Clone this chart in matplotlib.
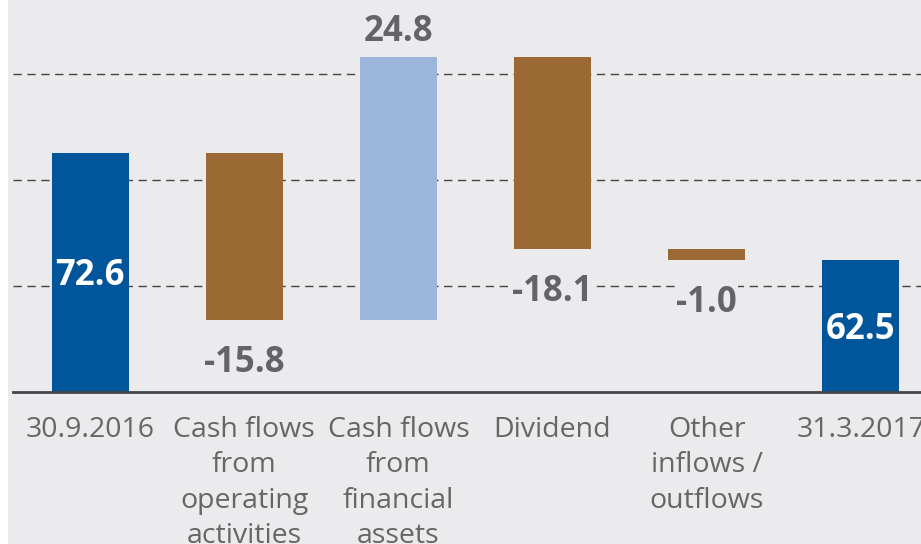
import matplotlib.pyplot as plt
from matplotlib.patches import Rectangle
import numpy as np

# Data
categories = ["30.9.2016", "Cash flows\nfrom\noperating\nactivities", "Cash flows\nfrom\nfinancial\nassets",
              "Dividend", "Other\ninflows /\noutflows", "31.3.2017"]
start_value = 72.6
changes = [-15.8, 24.8, -18.1, -1.0]
end_value = 62.5
labels = ["72.6", "-15.8", "24.8", "-18.1", "-1.0", "62.5"]

bg = "#ebebed"
dark_blue = "#00559b"
brown = "#9b6934"
light_blue = "#9cb6db"
label_gray = "#646466"

# waterfall geometry
level = start_value
bottoms = [0]
heights = [start_value]
for c in changes:
    new = level + c
    bottoms.append(min(level, new))
    heights.append(abs(c))
    level = new
bottoms.append(0)
heights.append(end_value)
colors = [dark_blue] + [light_blue if c > 0 else brown for c in changes] + [dark_blue]

fig = plt.figure(figsize=(9.21, 5.44), dpi=100)
fig.patch.set_facecolor("white")
fig.patches.append(Rectangle((8 / 921, 0), 1, 1, transform=fig.transFigure,
                             facecolor=bg, edgecolor="none", zorder=-10))

ax = fig.add_axes([13 / 921, 152 / 544, 1 - 13 / 921, 392 / 544])
ax.set_facecolor(bg)
x = np.arange(len(categories))
ax.bar(x, heights, bottom=bottoms, width=0.5, color=colors, zorder=2)

ymin = 50
ax.set_xlim(-0.5, 5.39)
ax.set_ylim(ymin, 87)
for g in [60, 70, 80]:
    ax.axhline(g, color="#444444", lw=1, ls=(0, (6, 4)), zorder=1)

for s in ["top", "left", "right"]:
    ax.spines[s].set_visible(False)
ax.spines["bottom"].set_color("#45464a")
ax.spines["bottom"].set_linewidth(2)
ax.set_xticks([])
ax.set_yticks([])

font = "Open Sans"
for i in range(len(categories)):
    if i in (0, len(categories) - 1):
        ax.annotate(labels[i], (x[i], (ymin + heights[i]) / 2), xytext=(0, -3),
                    textcoords="offset points", ha="center", va="center",
                    color="white", fontsize=25, fontweight="bold", family=font, zorder=3)
    elif changes[i - 1] > 0:
        ax.annotate(labels[i], (x[i], bottoms[i] + heights[i]), xytext=(0, 18),
                    textcoords="offset points", ha="center", va="center",
                    color=label_gray, fontsize=25, fontweight="bold", family=font,
                    bbox=dict(facecolor=bg, edgecolor="none", pad=1), zorder=3)
    else:
        ax.annotate(labels[i], (x[i], bottoms[i]), xytext=(0, -31),
                    textcoords="offset points", ha="center", va="center",
                    color=label_gray, fontsize=25, fontweight="bold", family=font,
                    bbox=dict(facecolor=bg, edgecolor="none", pad=1), zorder=3)

    ax.annotate(categories[i], (x[i], ymin), xytext=(0, -17), textcoords="offset points",
                ha="center", va="top", color="#666666", fontsize=20.5, family=font,
                linespacing=1.36, annotation_clip=False)

plt.savefig("out.png", dpi=100)
